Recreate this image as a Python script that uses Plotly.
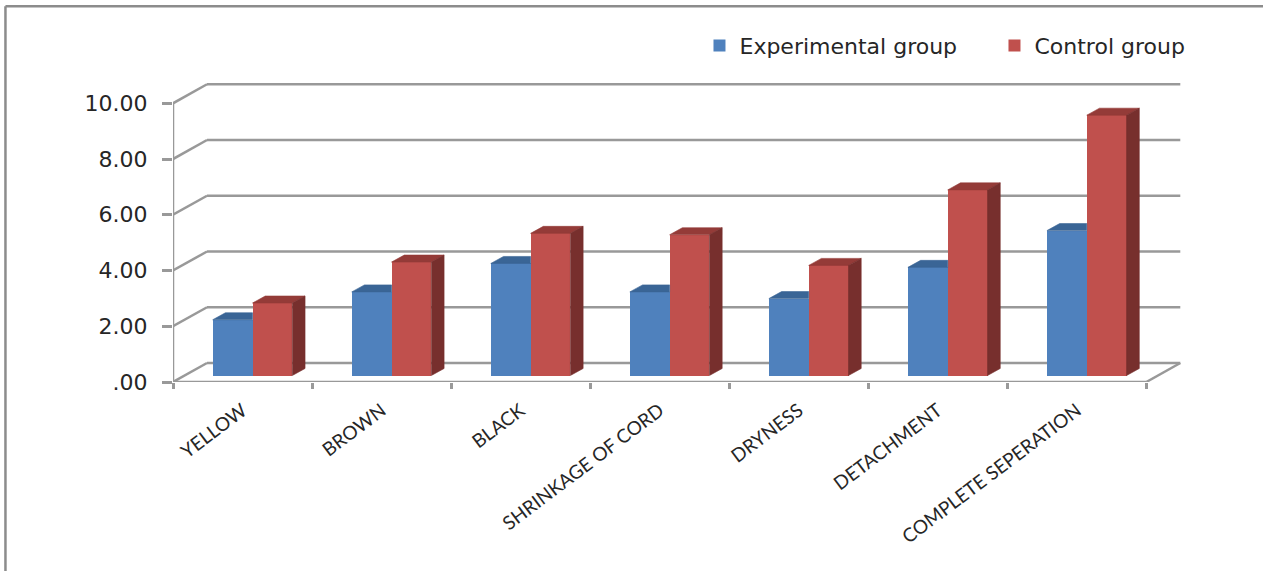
import plotly.graph_objects as go

# Chart data
categories = ["YELLOW", "BROWN", "BLACK", "SHRINKAGE OF CORD", "DRYNESS",
              "DETACHMENT", "COMPLETE SEPERATION"]
experimental = [2.0, 3.0, 4.02, 3.0, 2.76, 3.88, 5.2]
control = [2.6, 4.07, 5.1, 5.05, 3.95, 6.66, 9.34]
y_ticks = [0, 2, 4, 6, 8, 10]
y_tick_labels = [".00", "2.00", "4.00", "6.00", "8.00", "10.00"]

BLUE, BLUE_TOP = "#4F81BD", "#3A6596"
RED, RED_TOP, RED_SIDE = "#C0504D", "#943B38", "#772F2D"
GRID = "#999999"
FRAME = "#8C8C8C"
TEXT = "#262626"

# Oblique projection: the back wall is offset from the front plane
WALL_DX, WALL_DY = 34 / 139, 19 / 27.85
BAR_WIDTH = 39.8 / 139
BAR_LEFT = 39.7 / 139
BAR_BASE = 6.5 / 27.85
BAR_DX, BAR_DY = 12.7 / 139, 7 / 27.85
n = len(categories)

fig = go.Figure()

blue_x = [i + BAR_LEFT + BAR_WIDTH / 2 for i in range(n)]
red_x = [i + BAR_LEFT + BAR_WIDTH * 1.5 for i in range(n)]

for name, xs, vals, colour in (("Experimental group", blue_x, experimental, BLUE),
                               ("Control group", red_x, control, RED)):
    fig.add_trace(go.Bar(name=name, x=xs, y=vals, base=BAR_BASE, width=BAR_WIDTH,
                         marker=dict(color=colour, line=dict(width=0))))


def face(xs, ys, colour):
    fig.add_trace(go.Scatter(x=xs + xs[:1], y=ys + ys[:1], mode="lines", fill="toself",
                             fillcolor=colour, line=dict(width=0.6, color=colour),
                             showlegend=False, hoverinfo="skip"))


# Top and side faces of every bar, derived from its value
for i in range(n):
    x0 = i + BAR_LEFT
    xm = x0 + BAR_WIDTH
    x1 = xm + BAR_WIDTH
    blue_top = experimental[i] + BAR_BASE
    red_top = control[i] + BAR_BASE
    face([x0, xm, xm, x0 + BAR_DX], [blue_top, blue_top, blue_top + BAR_DY, blue_top + BAR_DY], BLUE_TOP)
    face([xm, x1, x1 + BAR_DX, xm + BAR_DX], [red_top, red_top, red_top + BAR_DY, red_top + BAR_DY], RED_TOP)
    face([x1, x1 + BAR_DX, x1 + BAR_DX, x1],
         [BAR_BASE, BAR_BASE + BAR_DY, red_top + BAR_DY, red_top], RED_SIDE)

# Front edges of the box sit on the plot boundary, so they are drawn unclipped
fig.add_trace(go.Scatter(x=[0, 0, n], y=[y_ticks[-1], 0, 0], mode="lines", cliponaxis=False,
                         line=dict(color=GRID, width=2.5), showlegend=False, hoverinfo="skip"))

shapes = []


def wall_line(x0, y0, x1, y1):
    shapes.append(dict(type="line", xref="x", yref="y", x0=x0, y0=y0, x1=x1, y1=y1,
                       line=dict(color=GRID, width=2.5), layer="below"))


# Back wall gridlines and the left wall diagonals
for v in y_ticks:
    wall_line(0, v, WALL_DX, v + WALL_DY)
    wall_line(WALL_DX, v + WALL_DY, n + WALL_DX, v + WALL_DY)
wall_line(n, 0, n + WALL_DX, WALL_DY)

# Frame round the chart area
PLOT_W, PLOT_H = 1014.7, 300.8
frame_left = -167.5 / PLOT_W
frame_top = 1 + 74.7 / PLOT_H
shapes.append(dict(type="line", xref="paper", yref="paper", x0=frame_left, x1=frame_left,
                   y0=-190 / PLOT_H, y1=frame_top, line=dict(color=FRAME, width=2.5)))
shapes.append(dict(type="line", xref="paper", yref="paper", x0=frame_left, x1=1090 / PLOT_W,
                   y0=frame_top, y1=frame_top, line=dict(color=FRAME, width=2.5)))

fig.update_layout(
    width=1263, height=571,
    margin=dict(l=173, r=75.3, t=81.2, b=189, autoexpand=False),
    paper_bgcolor="white", plot_bgcolor="white",
    barmode="overlay", bargap=0,
    shapes=shapes,
    font=dict(family="Lato", color=TEXT),
    legend=dict(orientation="h", x=0.5187, y=1 + 35.2 / PLOT_H, xanchor="left", yanchor="middle",
                bgcolor="rgba(0,0,0,0)",
                font=dict(family="DejaVu Sans", size=22, color=TEXT),
                traceorder="normal", itemwidth=30, entrywidth=250, entrywidthmode="pixels"),
    xaxis=dict(range=[0, n + 0.3], tickmode="array",
               tickvals=[i + 0.5 for i in range(n)], ticktext=categories,
               tickangle=-37, ticks="", showgrid=False, zeroline=False, showline=False,
               ticklabelstandoff=13,
               tickfont=dict(family="Lato", size=19, color=TEXT),
               minor=dict(tickmode="array", tickvals=list(range(n + 1)), ticks="outside",
                          ticklen=6, tickwidth=2.5, tickcolor=GRID, showgrid=False)),
    yaxis=dict(range=[0, 10.8], tickmode="array", tickvals=y_ticks, ticktext=y_tick_labels,
               ticks="outside", ticklen=10, tickwidth=2.5, tickcolor=GRID,
               showgrid=False, zeroline=False, showline=False, ticklabelstandoff=10,
               tickfont=dict(family="DejaVu Sans", size=22, color=TEXT)),
)

fig.write_html("out.html")
